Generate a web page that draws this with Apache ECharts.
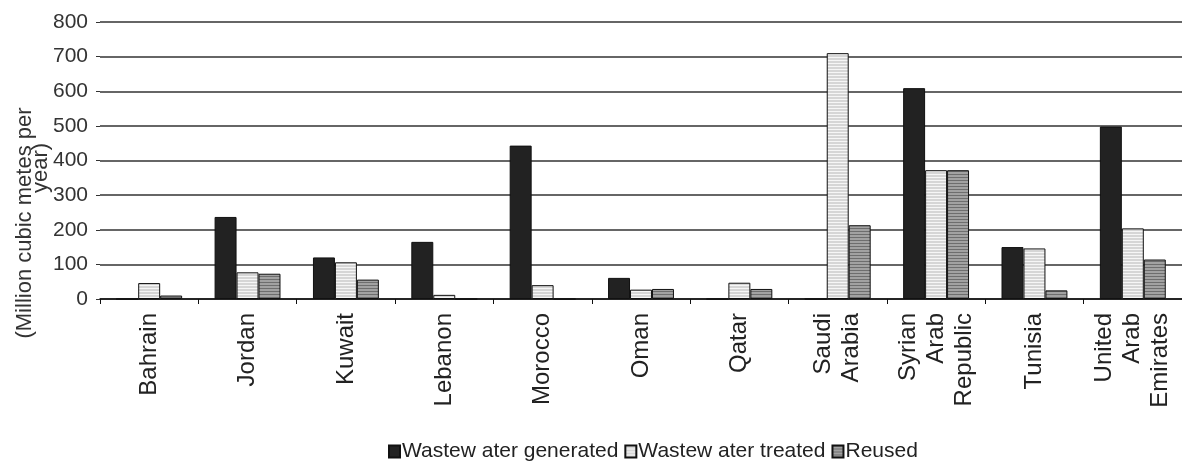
<!DOCTYPE html>
<html>
<head>
<meta charset="utf-8">
<script src="https://cdn.jsdelivr.net/npm/echarts@6/dist/echarts.min.js"></script>
<style>
  html, body { margin: 0; padding: 0; background: #fff; }
  #chart { width: 1182px; height: 474px; }
</style>
</head>
<body>
<div id="chart"></div>
<script>
// data (million cubic metres per year)
var categories = ['Bahrain', 'Jordan', 'Kuwait', 'Lebanon', 'Morocco', 'Oman', 'Qatar',
    'Saudi\nArabia', 'Syrian\nArab\nRepublic', 'Tunisia', 'United\nArab\nEmirates'];
var generated = [0, 237, 120, 165, 443, 61, 0, 0, 609, 150, 498];
var treated = [46, 77, 106, 12, 40, 27, 47, 710, 372, 146, 204];
var reused = [10, 73, 56, 0, 0, 29, 29, 213, 372, 25, 114];
var seriesNames = ['Wastew ater generated', 'Wastew ater treated', 'Reused'];

var sansFont = '"Liberation Sans", Arial, sans-serif';

// horizontal striped fill like the old excel patterns
function stripes(base, line) {
    var c = document.createElement('canvas');
    c.width = 4;
    c.height = 3;
    var ctx = c.getContext('2d');
    ctx.fillStyle = base;
    ctx.fillRect(0, 0, 4, 3);
    ctx.fillStyle = line;
    ctx.fillRect(0, 0, 4, 1);
    return { image: c, repeat: 'repeat' };
}

var chart = echarts.init(document.getElementById('chart'));

var barStyle = function (fill) {
    return { color: fill, borderColor: '#111', borderWidth: 1 };
};

chart.setOption({
    animation: false,
    grid: { left: 100, right: 0, top: 22, bottom: 175 },
    legend: {
        left: 383,
        bottom: 7,
        itemWidth: 11,
        itemHeight: 12,
        itemGap: 6,
        icon: 'rect',
        textStyle: { fontFamily: sansFont, fontSize: 21, color: '#222', padding: [0, 0, 0, -3] },
        data: seriesNames
    },
    graphic: [
        {
            type: 'text', x: 25, y: 223, rotation: Math.PI / 2,
            style: {
                text: '(Million cubic metes per', fontFamily: sansFont, fontSize: 22,
                fill: '#333', align: 'center', verticalAlign: 'middle'
            }
        },
        {
            type: 'text', x: 41, y: 168, rotation: Math.PI / 2,
            style: {
                text: 'year)', fontFamily: sansFont, fontSize: 22,
                fill: '#333', align: 'center', verticalAlign: 'middle'
            }
        }
    ],
    xAxis: {
        type: 'category',
        data: categories,
        axisLine: { lineStyle: { color: '#111', width: 1.5 } },
        axisTick: { show: true, length: 5, lineStyle: { color: '#111' } },
        axisLabel: {
            rotate: 90,
            margin: 14,
            fontFamily: sansFont,
            fontSize: 24,
            lineHeight: 28,
            color: '#222',
            interval: 0
        }
    },
    yAxis: {
        type: 'value',
        min: 0,
        max: 800,
        interval: 100,
        axisLine: { show: false },
        axisTick: { show: true, length: 4, lineStyle: { color: '#333' } },
        axisLabel: { fontFamily: sansFont, fontSize: 21, color: '#333', margin: 12 },
        splitLine: { lineStyle: { color: '#333', width: 1.5 } }
    },
    series: [
        {
            name: seriesNames[0], type: 'bar', data: generated,
            barGap: '0%', barCategoryGap: '33%',
            itemStyle: barStyle('#222')
        },
        {
            name: seriesNames[1], type: 'bar', data: treated,
            itemStyle: barStyle(stripes('#d6d6d6', '#f6f6f6'))
        },
        {
            name: seriesNames[2], type: 'bar', data: reused,
            itemStyle: barStyle(stripes('#a2a2a2', '#6e6e6e'))
        }
    ]
});
</script>
</body>
</html>
